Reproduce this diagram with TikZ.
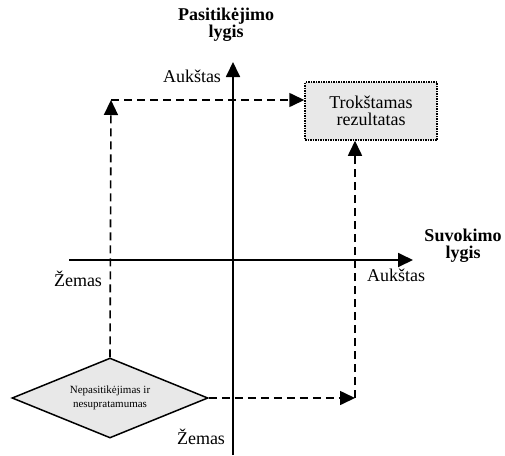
\documentclass[tikz,border=0pt]{standalone}
\usepackage{fontspec}
\setmainfont{Liberation Serif}
\usetikzlibrary{shapes.geometric,arrows.meta}
\tikzset{
  axisline/.style={line width=1.8pt,-{Triangle[length=15pt,width=14pt]}},
  flowline/.style={line width=1.6pt,dash pattern=on 8pt off 5pt,-{Triangle[length=15pt,width=14pt]}},
  lbl/.style={font=\fontsize{18}{20}\selectfont,inner sep=0pt},
  headlbl/.style={font=\fontsize{18}{17}\selectfont\bfseries,align=center,inner sep=0pt},
  goalbox/.style={draw,densely dotted,line width=1.5pt,fill=gray!18,minimum width=132pt,minimum height=58pt,align=center,font=\fontsize{18}{17}\selectfont},
  startdia/.style={draw,diamond,aspect=2.45,line width=1.5pt,fill=gray!18,minimum width=196pt,minimum height=80pt,inner sep=0pt,align=center,font=\fontsize{11}{14}\selectfont}
}
\begin{document}
\begin{tikzpicture}[x=1pt,y=-1pt]
\useasboundingbox (0,0) rectangle (505,455);
% axes
\coordinate (ybot) at (233,455);
\coordinate (ytop) at (233,62);
\coordinate (xleft) at (69,260);
\coordinate (xright) at (413,260);
\draw[axisline] (ybot) -- (ytop);
\draw[axisline] (xleft) -- (xright);
% axis labels
\node[headlbl] (ytitle) at (226,25) {Pasitikėjimo\\lygis};
\node[headlbl] (xtitle) at (463,246) {Suvokimo\\lygis};
\node[lbl] (yhigh) at (192,76) {Aukštas};
\node[lbl] (ylow) at (201,437) {Žemas};
\node[lbl] (xlow) at (78,279) {Žemas};
\node[lbl] (xhigh) at (396,275) {Aukštas};
% boxes
\node[goalbox] (goal) at (371,111) {Trokštamas\\rezultatas};
\node[startdia] (start) at (110,398) {Nepasitikėjimas ir\\nesupratamumas};
% dashed paths
\coordinate (lcorner) at (111,100);
\coordinate (rcorner) at (355,398);
\draw[flowline] (start.north) -- (lcorner);
\draw[flowline] (lcorner) -- (lcorner -| goal.west);
\draw[flowline] (start.east) -- (rcorner);
\draw[flowline] (rcorner) -- (rcorner |- goal.south);
\end{tikzpicture}
\end{document}
